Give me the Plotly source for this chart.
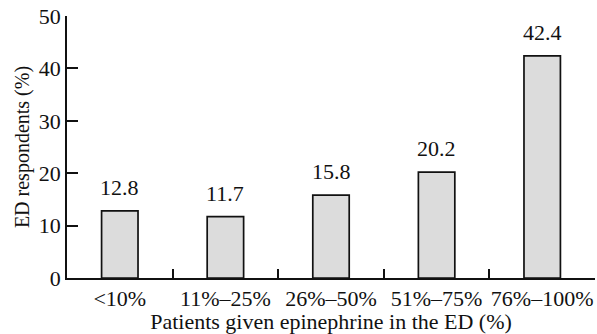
import plotly.graph_objects as go

categories = ["<10%", "11%\u201325%", "26%\u201350%", "51%\u201375%", "76%\u2013100%"]
respondents_pct = [12.8, 11.7, 15.8, 20.2, 42.4]
y_ticks = [0, 10, 20, 30, 40, 50]

FONT = "Liberation Serif, Times New Roman, serif"
FS = 22

fig = go.Figure(
    go.Bar(
        x=categories,
        y=respondents_pct,
        marker=dict(color="#dcdcdc", line=dict(color="#111111", width=1.7)),
        width=0.345,
        hoverinfo="skip",
    )
)

# value labels above each bar
for cat, val in zip(categories, respondents_pct):
    fig.add_annotation(
        x=cat, y=val, text=f"{val:.1f}", showarrow=False,
        yanchor="bottom", yshift=9,
        font=dict(family=FONT, size=FS, color="#111111"),
    )

fig.update_layout(
    width=597, height=334,
    margin=dict(l=67, r=2, t=16, b=56),
    paper_bgcolor="white", plot_bgcolor="white",
    showlegend=False,
    font=dict(family=FONT, size=FS, color="#111111"),
)

fig.update_xaxes(
    title=dict(text="Patients given epinephrine in the ED (%)", standoff=0,
               font=dict(family=FONT, size=FS)),
    showline=True, linecolor="#111111", linewidth=1.7,
    ticks="inside", tickson="boundaries", ticklen=9, tickwidth=1.7, tickcolor="#111111",
    tickangle=0, automargin=False,
    showgrid=False, zeroline=False,
    range=[-0.5, 4.5],
)
fig.update_yaxes(
    title=dict(text="ED respondents (%)", standoff=4, font=dict(family=FONT, size=20)),
    range=[0, 50], tickvals=y_ticks,
    showline=True, linecolor="#111111", linewidth=1.7,
    ticks="inside", ticklen=11, tickwidth=1.7, tickcolor="#111111",
    automargin=False,
    showgrid=False, zeroline=False,
)

fig.write_html("out.html")
